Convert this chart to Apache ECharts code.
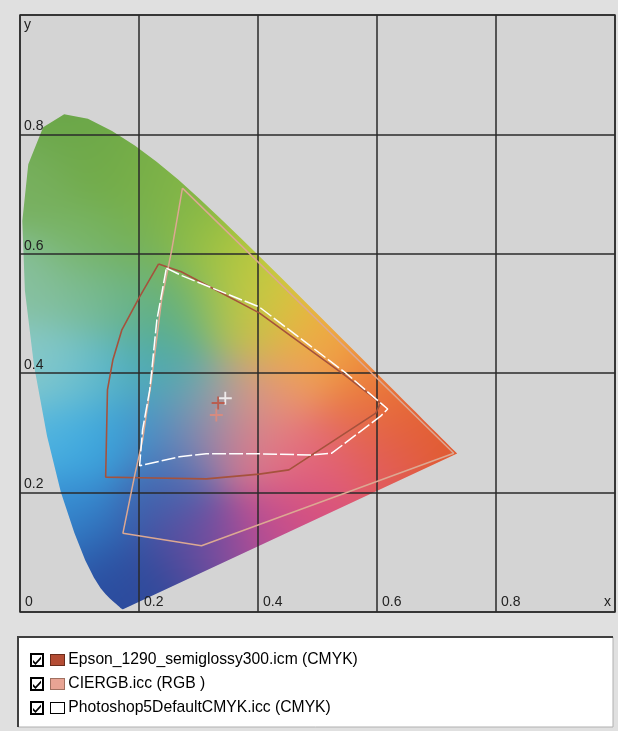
<!DOCTYPE html>
<html>
<head>
<meta charset="utf-8">
<script src="https://cdn.jsdelivr.net/npm/echarts@6/dist/echarts.min.js"></script>
<style>
html, body { margin: 0; padding: 0; background: #e0e0e0; }
#chart { width: 618px; height: 731px; }
</style>
</head>
<body>
<div id="chart"></div>
<script>
// spectral locus (x, y), 380 -> 700 nm
const spectralLocus = [
  [0.1741, 0.0050], [0.1738, 0.0049], [0.1733, 0.0048], [0.1726, 0.0048], [0.1714, 0.0051],
  [0.1703, 0.0058], [0.1689, 0.0069], [0.1669, 0.0086], [0.1644, 0.0109], [0.1611, 0.0138],
  [0.1566, 0.0177], [0.1510, 0.0227], [0.1440, 0.0297], [0.1355, 0.0399], [0.1241, 0.0578],
  [0.1096, 0.0868], [0.0913, 0.1327], [0.0687, 0.2007], [0.0454, 0.2950], [0.0235, 0.4127],
  [0.0082, 0.5384], [0.0039, 0.6548], [0.0139, 0.7502], [0.0389, 0.8120], [0.0743, 0.8338],
  [0.1142, 0.8262], [0.1547, 0.8059], [0.1929, 0.7816], [0.2296, 0.7543], [0.2658, 0.7243],
  [0.3016, 0.6923], [0.3373, 0.6589], [0.3731, 0.6245], [0.4087, 0.5896], [0.4441, 0.5547],
  [0.4788, 0.5202], [0.5125, 0.4866], [0.5448, 0.4544], [0.5752, 0.4242], [0.6029, 0.3965],
  [0.6270, 0.3725], [0.6482, 0.3514], [0.6658, 0.3340], [0.6801, 0.3197], [0.6915, 0.3083],
  [0.7006, 0.2993], [0.7079, 0.2920], [0.7140, 0.2859], [0.7190, 0.2809], [0.7230, 0.2770],
  [0.7260, 0.2740], [0.7300, 0.2700], [0.7347, 0.2653]
];

const epsonGamut = [
  [0.233, 0.583], [0.201, 0.528], [0.171, 0.472], [0.156, 0.422], [0.147, 0.372],
  [0.144, 0.226], [0.201, 0.225], [0.313, 0.223], [0.402, 0.231], [0.452, 0.238],
  [0.598, 0.333], [0.606, 0.350], [0.548, 0.395], [0.402, 0.501], [0.271, 0.570],
  [0.233, 0.583]
];

const cieRgbGamut = [
  [0.273, 0.710], [0.255, 0.606], [0.238, 0.523], [0.221, 0.389], [0.206, 0.288],
  [0.193, 0.230], [0.173, 0.132], [0.305, 0.111], [0.729, 0.266], [0.273, 0.710]
];

const photoshopGamut = [
  [0.246, 0.576], [0.273, 0.563], [0.402, 0.511], [0.548, 0.400], [0.598, 0.357],
  [0.618, 0.340], [0.606, 0.328], [0.524, 0.266], [0.491, 0.263], [0.402, 0.265],
  [0.313, 0.265], [0.268, 0.260], [0.201, 0.245], [0.206, 0.305], [0.218, 0.372],
  [0.230, 0.489], [0.246, 0.576]
];

const whitePoints = [[0.345, 0.358], [0.333, 0.350], [0.330, 0.330]];

const seriesNames = [
  'Epson_1290_semiglossy300.icm (CMYK)',
  'CIERGB.icc (RGB )',
  'Photoshop5DefaultCMYK.icc (CMYK)'
];

// colour anchors for the locus fill (style only)
const fillAnchors = [
  [0.07, 0.82, '#6aa648'], [0.03, 0.72, '#78b060'], [0.12, 0.75, '#70aa48'], [0.20, 0.72, '#76ae48'],
  [0.27, 0.70, '#84b646'], [0.10, 0.62, '#78b464'], [0.20, 0.62, '#74b058'], [0.30, 0.62, '#92be44'],
  [0.36, 0.58, '#b4c83e'], [0.02, 0.55, '#88c0a0'], [0.10, 0.52, '#7cbc98'], [0.18, 0.52, '#6cb488'],
  [0.27, 0.52, '#68b070'], [0.34, 0.50, '#a4c450'], [0.41, 0.53, '#d0cc3e'], [0.40, 0.47, '#c8c048'],
  [0.47, 0.48, '#ecb83c'], [0.52, 0.44, '#f0a440'], [0.58, 0.39, '#ee8838'], [0.64, 0.34, '#e86a30'],
  [0.71, 0.28, '#e05a2c'], [0.64, 0.29, '#e2603c'], [0.57, 0.33, '#e67048'], [0.47, 0.40, '#eea060'],
  [0.42, 0.36, '#e89078'], [0.36, 0.36, '#c4a098'], [0.30, 0.37, '#6aa8b0'], [0.24, 0.40, '#48a8b8'],
  [0.25, 0.46, '#52ac98'], [0.03, 0.42, '#8ccac8'], [0.08, 0.40, '#74c4d0'], [0.15, 0.40, '#58b4c8'],
  [0.07, 0.30, '#50b4e0'], [0.13, 0.28, '#38a6e0'], [0.20, 0.30, '#3a98d0'], [0.27, 0.30, '#6a88b8'],
  [0.33, 0.29, '#b07ca0'], [0.40, 0.28, '#e07888'], [0.48, 0.27, '#e46e80'], [0.55, 0.26, '#e26070'],
  [0.62, 0.25, '#e05860'], [0.50, 0.18, '#d8507e'], [0.42, 0.14, '#c24e90'], [0.34, 0.11, '#8e4c9c'],
  [0.28, 0.13, '#6050a2'], [0.22, 0.18, '#3a5ca8'], [0.25, 0.23, '#4a6cb4'], [0.10, 0.18, '#3890d4'],
  [0.13, 0.12, '#2e6cb8'], [0.16, 0.06, '#2a50a2'], [0.20, 0.04, '#2c4896'], [0.17, 0.01, '#2a4aa0'],
  [0.26, 0.07, '#48489a']
];

const anchorRgb = fillAnchors.map(a => [
  parseInt(a[2].slice(1, 3), 16), parseInt(a[2].slice(3, 5), 16), parseInt(a[2].slice(5, 7), 16)
]);

let fillCanvas = null;
let fillKey = '';

// paints the colour field in pixel space so the locus polygon can use it as a pattern
function makeFill(w, h, p0, p1) {
  const cv = document.createElement('canvas');
  cv.width = w;
  cv.height = h;
  const ctx = cv.getContext('2d');
  const img = ctx.createImageData(w, h);
  const sx = p1[0] - p0[0], sy = p1[1] - p0[1];
  const s2 = 2 * 0.05 * 0.05;
  const n = fillAnchors.length;
  const d2 = new Float64Array(n);
  for (let j = Math.max(0, Math.floor(p1[1])); j < Math.min(h, Math.ceil(p0[1]) + 1); j++) {
    const y = (j + 0.5 - p0[1]) / sy;
    if (y > 0.87) continue;
    for (let i = Math.max(0, Math.floor(p0[0])); i < Math.min(w, Math.ceil(p1[0])); i++) {
      const x = (i + 0.5 - p0[0]) / sx;
      if (x > 0.76) break;
      let dmin = Infinity;
      for (let k = 0; k < n; k++) {
        const dx = x - fillAnchors[k][0], dy = y - fillAnchors[k][1];
        d2[k] = dx * dx + dy * dy;
        if (d2[k] < dmin) dmin = d2[k];
      }
      let r = 0, g = 0, b = 0, ws = 0;
      for (let k = 0; k < n; k++) {
        const wgt = Math.exp(-(d2[k] - dmin) / s2);
        r += wgt * anchorRgb[k][0];
        g += wgt * anchorRgb[k][1];
        b += wgt * anchorRgb[k][2];
        ws += wgt;
      }
      const o = (j * w + i) * 4;
      img.data[o] = r / ws;
      img.data[o + 1] = g / ws;
      img.data[o + 2] = b / ws;
      img.data[o + 3] = 255;
    }
  }
  ctx.putImageData(img, 0, 0);
  return cv;
}

const chart = echarts.init(document.getElementById('chart'));

const labelFont = { fontFamily: 'Liberation Sans', fontSize: 14, color: '#222' };

const option = {
  backgroundColor: '#e0e0e0',
  animation: false,
  textStyle: { fontFamily: 'Liberation Sans' },
  grid: {
    left: 20, top: 15, width: 597, height: 597,
    show: true, backgroundColor: '#d4d4d4', borderColor: '#333', borderWidth: 1.5
  },
  xAxis: {
    type: 'value', min: 0, max: 1, interval: 0.2, z: 2,
    name: 'x', nameLocation: 'end', nameGap: -4, nameMoveOverlap: false,
    nameTextStyle: Object.assign({ align: 'right', verticalAlign: 'bottom', padding: [0, 0, 3, 0] }, labelFont),
    axisLine: { show: false }, axisTick: { show: false },
    splitLine: { show: true, lineStyle: { color: '#2a2a2a', width: 1.5 } },
    axisLabel: Object.assign({
      inside: true, align: 'left', verticalAlign: 'bottom', margin: 3, padding: [0, 0, 0, 5],
      showMaxLabel: true,
      formatter: v => (v >= 1 ? '' : String(v))
    }, labelFont)
  },
  yAxis: {
    type: 'value', min: 0, max: 1, interval: 0.2, z: 2,
    name: 'y', nameLocation: 'end', nameGap: -3, nameMoveOverlap: false,
    nameTextStyle: Object.assign({ align: 'left', verticalAlign: 'top', padding: [0, 0, 0, 4] }, labelFont),
    axisLine: { show: false }, axisTick: { show: false },
    splitLine: { show: true, lineStyle: { color: '#2a2a2a', width: 1.5 } },
    axisLabel: Object.assign({
      inside: true, align: 'left', verticalAlign: 'bottom', margin: 4, padding: [0, 0, 1, 0],
      formatter: v => (v <= 0 || v >= 1 ? '' : String(v))
    }, labelFont)
  },
  legend: {
    orient: 'vertical', left: 30, top: 652, itemGap: 8, padding: 0,
    itemWidth: 14, itemHeight: 14,
    icon: 'path://M0,0H14V14H0Z M2,2V12H12V2Z M3,7L5.5,9.5L11,3.5V6L5.5,12L3,9.5Z',
    itemStyle: { color: '#000', borderWidth: 0 },
    selectedMode: false,
    data: seriesNames,
    formatter: name => '{g|}{s' + seriesNames.indexOf(name) + '|} ' + name,
    textStyle: {
      fontFamily: 'Liberation Sans', fontSize: 15.7, color: '#000',
      rich: {
        g: { width: 2 },
        s0: { width: 13, height: 10, backgroundColor: '#b44c34', borderColor: '#6a2c1c', borderWidth: 1 },
        s1: { width: 13, height: 10, backgroundColor: '#e8a494', borderColor: '#a07060', borderWidth: 1 },
        s2: { width: 13, height: 10, backgroundColor: '#ffffff', borderColor: '#000', borderWidth: 1 }
      }
    }
  },
  graphic: [
    { type: 'rect', z: 0, shape: { x: 18, y: 637, width: 595, height: 90 }, style: { fill: '#fff', stroke: '#b0b0b0', lineWidth: 1 } },
    { type: 'polyline', z: 1, shape: { points: [[18, 727], [18, 637], [613, 637]] }, style: { stroke: '#404040', lineWidth: 2, fill: null } }
  ],
  series: [
    {
      type: 'custom', z: 1, silent: true,
      data: [[0, 0]],
      renderItem: (params, api) => {
        const p0 = api.coord([0, 0]);
        const p1 = api.coord([1, 1]);
        const key = p0.join(',') + p1.join(',');
        if (key !== fillKey) {
          fillCanvas = makeFill(api.getWidth(), api.getHeight(), p0, p1);
          fillKey = key;
        }
        return {
          type: 'polygon',
          silent: true,
          shape: { points: spectralLocus.map(p => api.coord(p)) },
          style: { fill: { image: fillCanvas, repeat: 'no-repeat' }, stroke: null }
        };
      }
    },
    {
      name: seriesNames[0], type: 'line', z: 3, silent: true, symbol: 'none',
      data: epsonGamut, color: '#a5523c', lineStyle: { color: '#a5523c', width: 1.6 }
    },
    {
      name: seriesNames[1], type: 'line', z: 3, silent: true, symbol: 'none',
      data: cieRgbGamut, color: '#dca892', lineStyle: { color: '#dca892', width: 1.5 }
    },
    {
      name: seriesNames[2], type: 'line', z: 4, silent: true, symbol: 'none',
      data: photoshopGamut, color: '#ffffff', lineStyle: { color: '#ffffff', width: 1.5, type: [14, 3] }
    },
    {
      type: 'scatter', z: 5, silent: true,
      symbol: 'path://M6,0H8V14H6Z M0,6H14V8H0Z', symbolSize: 13,
      data: whitePoints.map((p, i) => ({
        value: p,
        itemStyle: { color: ['#ffffff', '#c0503c', '#e48a78'][i] }
      }))
    }
  ]
};

chart.setOption(option);
</script>
</body>
</html>
